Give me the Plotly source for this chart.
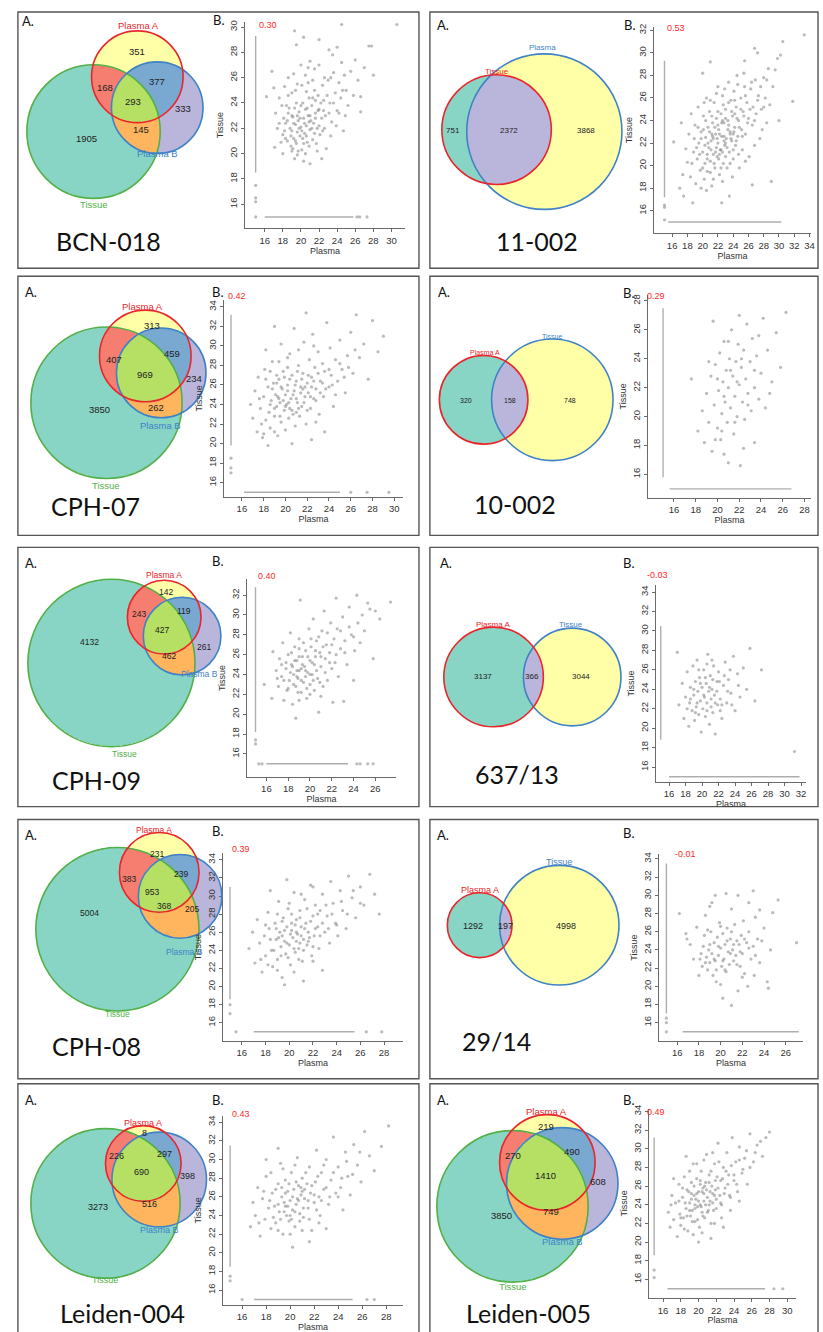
import numpy as np
import plotly.graph_objects as go

W, H = 823, 1332
FLOOR = 15  # value given to proteins not detected in one sample (the two strips)

# ====================== DATA ======================
sample_names = ["BCN-018", "11-002", "CPH-07", "10-002", "CPH-09",
                "637/13", "CPH-08", "29/14", "Leiden-004", "Leiden-005"]
correlations = ["0.30", "0.53", "0.42", "0.29", "0.40",
                "-0.03", "0.39", "-0.01", "0.43", "0.49"]

# three-set Venn counts, order: A only, B only, T only, A&B, A&T, B&T, A&B&T
set3_names = ["Plasma A", "Plasma B", "Tissue"]
bcn018_venn = [351, 333, 1905, 377, 168, 145, 293]
cph07_venn = [313, 234, 3850, 459, 407, 262, 969]
cph09_venn = [142, 261, 4132, 119, 243, 462, 427]
cph08_venn = [231, 205, 5004, 239, 383, 368, 953]
leiden004_venn = [8, 398, 3273, 297, 226, 516, 690]
leiden005_venn = [219, 608, 3850, 490, 270, 749, 1410]
# two-set Venn counts, order: first only, second only, both
e11002_sets = ["Tissue", "Plasma"]
e11002_venn = [751, 3868, 2372]
e10002_sets = ["Plasma A", "Tissue"]
e10002_venn = [320, 748, 158]
e63713_sets = ["Plasma A", "Tissue"]
e63713_venn = [3137, 3044, 366]
e2914_sets = ["Plasma A", "Tissue"]
e2914_venn = [1292, 4998, 197]

# scatter clouds (Plasma, Tissue)
bcn018_cloud = [
    (17.1,20.5),(17.2,23.2),(17.4,22.0),(17.6,24.4),(17.8,20.9),(17.9,23.8),(16.2,24.5),(17.0,25.2),(16.8,26.5),
    (18.0,21.5),(18.0,20.0),(18.2,25.3),(18.3,22.4),(18.5,21.0),(18.6,23.2),(18.6,26.0),(18.8,22.0),(18.9,20.6),
    (19.0,21.8),(19.0,24.8),(19.1,22.9),(19.2,21.2),(19.2,26.3),(19.3,23.6),(19.3,19.6),(19.3,29.7),(19.4,22.3),
    (19.5,20.8),(19.5,28.6),(19.6,21.7),(19.6,25.5),(19.7,22.6),(19.8,23.3),(19.9,21.4),(20.0,22.1),(20.0,27.0),
    (20.1,20.3),(20.2,24.0),(20.3,22.8),(20.3,19.4),(20.3,29.2),(20.4,21.6),(20.5,23.5),(20.5,26.2),(20.6,22.2),
    (20.7,20.9),(20.8,23.0),(20.8,25.6),(20.9,24.4),(21.0,21.9),(21.0,19.2),(21.0,27.3),(21.1,22.6),(21.2,23.8),
    (21.3,21.1),(21.4,22.4),(21.5,25.0),(21.5,26.7),(21.6,23.2),(21.8,22.0),(21.8,20.2),(21.9,24.6),(22.0,23.5),
    (22.0,27.0),(22.0,29.0),(22.1,21.5),(22.3,22.8),(22.3,19.6),(22.4,25.4),(22.5,24.2),(22.6,26.0),(22.7,23.0),
    (22.8,20.4),(23.0,25.8),(23.1,28.2),(23.2,24.0),(23.4,22.5),(23.5,27.8),(23.6,26.4),(23.8,24.8),(24.0,23.4),
    (24.0,28.4),(24.2,25.6),(24.4,24.4),(24.5,27.2),(24.5,30.2),(24.7,21.8),(25.0,25.0),(25.2,23.8),(25.5,26.5),
    (25.8,24.6),(26.0,27.4),(26.3,25.8),(26.6,24.5),(26.6,23.3),(27.0,26.8),(27.5,28.5),(27.8,28.5),(28.0,26.2),
    (30.6,30.2),(19.0,23.0),(19.8,22.0),(20.2,21.2),(20.9,22.5),(18.4,23.8),(21.6,24.2),(20.6,24.9),(19.5,24.0),
    (18.1,22.8),(18.3,21.2),(18.5,22.6),(18.7,23.6),(18.9,21.4),(19.1,20.4),(19.2,22.4),(19.4,21.0),(19.6,23.0),
    (19.7,20.2),(19.9,22.8),(20.0,23.8),(20.1,21.8),(20.3,20.8),(20.4,22.4),(20.6,21.4),(20.7,23.6),(20.9,20.6),
    (21.0,23.0),(21.2,22.0),(21.3,24.4),(21.5,21.6),(21.6,22.8),(21.7,20.8),(21.9,23.4),(22.0,22.2),(22.2,24.0),
    (22.4,21.8),(22.5,23.4),(22.6,22.0),(22.9,24.6),(23.1,23.2),(23.3,21.4),(23.6,24.0),(23.9,22.2),(24.2,23.2),
    (24.6,25.0),(24.9,23.0),(18.6,24.6),(19.4,25.0),(20.1,25.4),(20.8,26.8),(21.3,25.8),(23.3,26.0),(24.8,26.2),
    (18.2,21.8),(19.0,20.2),(19.6,19.9),(20.5,20.0),(17.6,22.4)]
e11002_cloud = [
    (17.2,23.8),(16.2,22.1),(17.0,18.0),(17.5,17.3),(17.4,19.2),(17.8,21.5),(18.0,20.3),(18.2,22.8),(18.4,19.0),
    (18.5,24.6),(18.7,16.7),(18.8,21.2),(19.0,23.6),(19.1,18.4),(19.3,20.6),(19.4,25.2),(19.5,22.0),(19.7,19.6),
    (19.8,23.0),(20.0,21.2),(20.0,28.2),(20.1,24.4),(20.2,18.8),(20.3,20.2),(20.4,22.5),(20.5,26.0),(20.6,19.5),
    (20.7,23.4),(20.8,21.6),(20.9,24.8),(21.0,20.4),(21.0,29.2),(21.1,22.2),(21.2,18.2),(21.3,23.8),(21.4,21.0),
    (21.5,25.6),(21.6,19.8),(21.7,22.8),(21.8,24.2),(21.9,20.8),(22.0,27.0),(22.0,22.0),(22.1,23.2),(22.2,19.2),
    (22.3,21.4),(22.4,24.6),(22.5,16.7),(22.5,22.6),(22.6,26.2),(22.7,20.2),(22.8,23.8),(22.9,21.8),(23.0,25.0),
    (23.1,22.4),(23.2,19.8),(23.3,24.0),(23.4,27.4),(23.5,17.3),(23.5,21.2),(23.6,23.0),(23.7,25.8),(23.8,22.2),
    (23.9,24.4),(24.0,20.6),(24.1,26.6),(24.2,23.4),(24.3,21.8),(24.4,25.2),(24.5,28.0),(24.6,22.6),(24.7,24.0),
    (24.8,19.8),(25.0,26.0),(25.1,23.2),(25.2,21.4),(25.3,24.8),(25.5,29.3),(25.5,27.0),(25.6,22.8),(25.8,25.6),
    (26.0,24.2),(26.1,20.8),(26.3,26.8),(26.5,18.3),(26.5,23.6),(26.6,25.2),(26.8,30.4),(26.9,27.6),(27.0,24.6),
    (27.2,30.0),(27.3,26.2),(27.5,22.4),(27.7,25.0),(28.0,27.8),(28.2,26.0),(28.4,23.8),(28.6,28.6),(28.8,25.4),
    (29.0,18.6),(29.2,27.0),(29.5,28.5),(29.8,29.5),(30.0,24.0),(30.2,29.8),(30.5,31.0),(31.8,25.7),(33.3,31.6),
    (21.4,22.4),(22.2,21.0),(22.8,22.2),(23.4,23.6),(21.8,21.6),(20.6,21.0),(24.0,22.8),(22.6,24.0),
    (19.6,21.0),(19.8,22.4),(20.0,19.8),(20.1,23.2),(20.3,21.8),(20.4,24.0),(20.6,20.6),(20.7,22.0),(20.9,23.0),
    (21.0,19.4),(21.1,21.4),(21.2,24.4),(21.3,22.6),(21.5,20.2),(21.6,23.4),(21.7,21.2),(21.9,22.4),(22.0,24.8),
    (22.1,20.6),(22.2,22.8),(22.4,19.8),(22.5,23.8),(22.6,21.2),(22.7,25.4),(22.8,22.6),(23.0,20.8),(23.0,24.2),
    (23.2,21.6),(23.3,23.2),(23.4,25.6),(23.6,20.2),(23.7,22.4),(23.8,24.8),(24.0,21.4),(24.1,23.0),(24.2,25.8),
    (24.4,22.2),(24.5,24.2),(24.7,21.0),(24.8,23.4),(25.0,25.0),(25.2,22.6),(25.4,24.4),(25.6,26.2),(25.9,23.8),
    (26.2,25.0),(26.4,27.4),(26.8,24.0),(27.2,25.8),(27.6,27.0),(28.0,25.2),(28.4,27.6),(19.2,21.6),(19.4,23.4),
    (18.6,20.2),(18.9,22.4),(20.2,25.6),(21.0,25.8),(21.8,26.4),(22.9,26.8),(24.6,27.2),(25.4,28.2),(23.9,19.0),
    (22.6,18.6),(21.4,18.8),(20.5,17.8),(19.8,18.0),(25.6,20.4),(26.8,21.8),(27.8,23.2),(22.4,21.4),(23.6,22.8),
    (21.2,22.8),(24.2,24.6),(22.0,23.6),(23.0,22.0)]
cph07_cloud = [
    (16.8,24.0),(17.0,22.6),(17.2,25.4),(17.4,21.2),(17.5,26.8),(17.7,23.6),(17.9,20.6),(18.0,24.8),(18.1,27.6),
    (18.2,22.4),(18.4,25.8),(18.5,23.2),(18.6,21.6),(18.7,24.4),(18.8,28.4),(18.9,26.2),(19.0,22.8),(19.1,25.0),
    (19.2,23.8),(19.3,20.8),(19.4,26.6),(19.5,24.2),(19.6,22.2),(19.7,25.6),(19.8,27.4),(19.9,23.4),(20.0,25.0),
    (20.0,21.4),(20.1,24.0),(20.2,26.0),(20.3,22.6),(20.4,29.2),(20.5,24.6),(20.6,27.0),(20.7,23.0),(20.8,25.4),
    (20.9,21.8),(21.0,26.4),(21.1,24.2),(21.2,28.0),(21.3,22.8),(21.4,25.8),(21.5,23.8),(21.6,27.2),(21.7,30.4),
    (21.8,24.8),(21.9,22.0),(22.0,26.2),(22.1,25.2),(22.2,28.6),(22.3,23.6),(22.4,26.8),(22.5,31.2),(22.6,24.6),
    (22.7,27.8),(22.8,25.6),(23.0,29.4),(23.1,23.0),(23.2,26.4),(23.4,28.2),(23.5,24.8),(23.6,27.4),(23.8,32.4),
    (24.0,25.8),(24.1,29.8),(24.2,27.0),(24.4,23.8),(24.6,28.6),(24.8,26.4),(25.0,30.6),(25.2,27.6),(25.5,25.2),
    (25.7,29.0),(26.0,31.4),(26.2,27.2),(26.5,33.2),(26.8,28.8),(27.2,30.2),(27.6,26.6),(28.0,32.6),(28.5,29.4),
    (29.0,31.0),(19.6,30.2),(18.2,29.6),(20.8,31.8),(21.9,33.4),(19.0,32.0),(23.6,21.2),(22.4,20.4),(20.6,20.0),
    (21.0,23.2),(20.4,23.6),(19.4,24.6),(21.6,25.6),(20.2,27.8),(19.2,27.0),(22.8,22.2),(18.4,19.8),
    (18.6,24.0),(18.8,25.6),(19.0,23.6),(19.2,26.2),(19.3,24.8),(19.5,22.8),(19.6,25.8),(19.8,24.4),(19.9,26.8),
    (20.0,23.8),(20.2,25.4),(20.3,24.2),(20.4,26.6),(20.6,23.4),(20.7,25.0),(20.9,26.0),(21.0,24.6),(21.1,27.4),
    (21.2,23.6),(21.4,25.2),(21.5,26.6),(21.7,24.2),(21.8,25.8),(22.0,23.4),(22.1,27.0),(22.3,24.8),(22.4,25.8),
    (22.6,26.4),(22.8,24.4),(23.0,27.2),(23.2,25.2),(23.4,26.2),(23.7,25.6),(24.0,27.6),(24.3,26.0),(24.6,25.0),
    (25.0,28.2),(25.4,26.8),(25.8,27.8),(26.4,29.6),(17.6,24.6),(17.8,22.0),(18.2,26.6),(18.6,27.4),(19.4,28.4),
    (20.2,28.8),(21.2,29.6),(22.6,30.0),(18.0,21.0),(19.0,21.2)]
e10002_cloud = [
    (18.2,19.0),(18.6,20.4),(18.8,18.2),(19.0,21.6),(19.2,19.6),(19.4,22.8),(19.5,17.6),(19.7,20.8),(19.8,23.6),
    (20.0,19.2),(20.1,21.8),(20.2,24.4),(20.3,18.4),(20.4,20.2),(20.5,22.4),(20.6,25.2),(20.7,21.0),(20.8,23.2),
    (20.9,19.6),(21.0,22.0),(21.1,24.0),(21.2,20.6),(21.3,26.0),(21.4,22.8),(21.5,18.8),(21.6,21.4),(21.7,23.8),
    (21.8,20.0),(21.9,25.0),(22.0,22.2),(22.1,16.6),(22.2,23.4),(22.3,21.0),(22.4,24.6),(22.5,19.8),(22.6,22.6),
    (22.7,26.4),(22.8,21.6),(23.0,23.8),(23.1,20.4),(23.2,25.4),(23.4,22.0),(23.6,24.2),(23.8,21.2),(24.0,23.0),
    (24.2,26.8),(24.4,20.6),(24.6,24.6),(25.0,22.4),(25.4,25.8),(25.8,23.4),(26.3,27.2),(17.6,22.6),(19.6,26.6),
    (22.0,27.0),(21.0,16.8),(20.6,17.4),(23.4,18.2),
    (20.0,22.6),(20.6,21.4),(21.2,23.2),(21.6,19.6),(22.2,24.0),(22.8,20.8),(23.4,23.2),(20.4,19.0),(21.8,22.4),
    (19.2,23.8),(23.8,25.6),(24.8,21.6),(19.8,18.4),(22.4,17.8),(21.0,25.2)]
cph09_cloud = [
    (15.8,23.0),(16.5,21.6),(16.6,26.3),(16.9,24.4),(17.1,22.8),(17.2,25.6),(17.4,23.8),(17.5,27.2),(17.6,21.4),
    (17.8,24.6),(17.9,22.4),(18.0,26.0),(18.1,23.4),(18.2,28.2),(18.3,25.0),(18.4,21.0),(18.5,24.0),(18.6,26.8),
    (18.7,19.6),(18.7,22.8),(18.8,25.4),(18.9,23.6),(19.0,27.6),(19.0,24.4),(19.1,31.5),(19.2,22.2),(19.3,25.8),
    (19.4,23.2),(19.5,24.8),(19.6,26.4),(19.7,21.6),(19.8,24.2),(19.9,28.6),(20.0,25.4),(20.0,23.0),(20.1,26.8),
    (20.2,24.0),(20.3,29.6),(20.4,22.4),(20.5,25.8),(20.6,27.4),(20.7,23.6),(20.8,20.2),(20.9,26.2),(21.0,24.8),
    (21.1,28.4),(21.2,22.8),(21.3,30.4),(21.4,25.6),(21.5,27.0),(21.6,23.4),(21.8,26.2),(21.9,29.2),(22.0,24.6),
    (22.1,21.2),(22.2,27.6),(22.3,25.2),(22.4,31.7),(22.5,28.6),(22.6,23.8),(22.8,26.6),(23.0,29.8),(23.1,21.3),
    (23.2,27.4),(23.4,25.0),(23.6,30.8),(23.8,28.0),(24.0,23.4),(24.1,26.4),(24.3,32.0),(24.4,29.2),(24.6,27.2),
    (24.8,30.0),(25.0,28.4),(25.3,31.2),(25.5,30.6),(25.8,25.6),(26.0,30.4),(26.4,29.6),(27.4,31.3),(19.2,24.6),
    (18.4,24.8),(19.6,23.8),(20.4,25.0),(19.0,25.8),(18.8,23.8),
    (17.6,23.4),(17.8,25.2),(18.0,22.6),(18.2,24.2),(18.3,26.2),(18.5,23.0),(18.6,25.4),(18.8,24.4),(18.9,22.2),
    (19.0,26.6),(19.2,23.4),(19.3,25.0),(19.4,27.2),(19.6,24.4),(19.7,22.6),(19.8,25.8),(20.0,24.0),(20.1,27.6),
    (20.2,25.2),(20.3,23.4),(20.5,26.4),(20.6,24.4),(20.8,27.8),(20.9,23.2),(21.0,25.8),(21.2,26.8),(21.4,24.2),
    (21.6,28.2),(21.8,25.2),(22.0,27.0),(22.4,26.0),(22.8,28.4),(23.2,26.2),(23.6,28.8),(24.0,27.8),(17.4,25.0),
    (17.0,23.6),(19.0,21.4),(20.0,22.0),(21.0,21.8)]
e63713_cloud = [
    (17.2,22.4),(17.6,24.6),(17.8,21.0),(18.0,23.2),(18.2,25.8),(18.4,20.2),(18.5,22.6),(18.6,24.2),(18.8,21.8),
    (18.9,26.4),(19.0,23.4),(19.1,20.8),(19.2,24.8),(19.3,22.2),(19.4,27.0),(19.5,23.8),(19.6,21.4),(19.7,25.2),
    (19.8,22.8),(19.9,19.6),(20.0,24.2),(20.1,22.0),(20.2,26.0),(20.3,23.2),(20.4,21.2),(20.5,24.6),(20.6,22.6),
    (20.7,27.6),(20.8,23.8),(20.9,20.4),(21.0,25.4),(21.1,22.2),(21.2,24.0),(21.3,21.6),(21.4,26.4),(21.5,23.4),
    (21.6,19.4),(21.8,24.8),(21.9,22.4),(22.0,25.8),(22.2,23.0),(22.4,21.0),(22.6,24.4),(22.8,26.8),(23.0,22.6),
    (23.2,25.0),(23.5,23.6),(23.8,27.4),(24.0,21.8),(24.3,25.6),(24.6,23.2),(25.0,26.2),(25.4,24.0),(25.8,28.2),
    (26.4,22.8),(27.2,26.0),(31.2,17.6),(17.0,27.8),
    (19.0,24.0),(19.4,22.6),(19.8,24.6),(20.2,23.4),(20.4,25.2),(20.6,21.8),(20.9,24.2),(21.1,23.0),(21.3,25.0),
    (21.6,22.6),(21.8,23.8),(22.1,24.8),(22.4,22.4),(22.7,25.4),(23.1,23.8),(23.4,26.0),(18.6,23.0),(18.2,22.0),
    (19.6,26.0),(20.6,26.6),(21.2,27.0),(22.2,21.8),(23.6,22.4),(24.4,24.4),(19.2,21.6)]
cph08_cloud = [
    (16.6,24.2),(16.9,26.0),(17.1,22.6),(17.3,27.4),(17.5,24.8),(17.7,21.6),(17.9,25.6),(18.0,23.4),(18.2,28.2),
    (18.3,26.4),(18.5,24.0),(18.6,22.2),(18.8,27.0),(18.9,25.2),(19.0,23.0),(19.1,29.4),(19.2,26.0),(19.3,24.4),
    (19.4,21.0),(19.5,27.6),(19.6,25.0),(19.7,23.6),(19.8,26.6),(19.9,28.6),(20.0,24.6),(20.1,22.4),(20.2,26.2),
    (20.3,25.4),(20.4,30.4),(20.5,23.8),(20.6,27.4),(20.7,25.8),(20.8,24.2),(20.9,28.4),(21.0,26.6),(21.1,22.8),
    (21.2,25.2),(21.3,29.6),(21.4,27.0),(21.5,24.6),(21.6,26.0),(21.8,31.2),(21.9,23.4),(22.0,27.8),(22.1,25.6),
    (22.2,29.0),(22.4,26.6),(22.5,24.2),(22.6,28.4),(22.8,30.2),(23.0,26.0),(23.2,27.8),(23.4,24.8),(23.5,31.6),
    (23.7,29.2),(23.9,27.0),(24.1,25.6),(24.3,30.6),(24.5,28.4),(24.8,26.4),(25.0,32.2),(25.3,29.8),(25.6,27.6),
    (26.0,31.0),(26.3,29.0),(26.8,32.4),(27.2,30.2),(27.6,28.0),(19.6,20.2),(21.2,20.6),(22.8,21.8),(18.4,30.6),
    (19.8,31.8),(20.9,24.8),(20.2,27.0),(19.4,25.6),(21.6,25.0),(20.6,26.0),
    (18.4,25.2),(18.7,24.0),(18.9,26.4),(19.1,25.4),(19.3,23.4),(19.4,27.2),(19.6,26.2),(19.8,24.8),(19.9,23.2),
    (20.1,25.8),(20.2,28.0),(20.4,24.2),(20.5,26.8),(20.6,25.0),(20.8,23.0),(20.9,27.6),(21.0,25.6),(21.2,24.0),
    (21.3,26.4),(21.5,28.6),(21.7,25.4),(21.8,27.2),(22.0,24.4),(22.2,26.4),(22.4,28.0),(22.6,25.6),(22.8,27.0),
    (23.1,29.0),(23.3,26.4),(23.6,28.0),(24.0,26.8),(24.4,29.4),(24.9,28.0),(25.4,30.6),(26.0,29.2),(17.6,23.0),
    (18.0,26.8),(18.2,22.4),(19.0,28.0),(20.0,29.2),(21.0,30.2),(22.0,31.0),(19.0,21.8),(20.4,21.6),(22.0,22.8)]
e2914_cloud = [
    (16.2,28.0),(16.8,25.8),(16.9,25.2),(17.2,24.6),(17.5,23.0),(17.8,26.5),(18.0,21.2),(18.1,23.0),(18.2,23.6),
    (18.3,22.2),(18.4,24.4),(18.5,25.6),(18.6,27.8),(18.7,23.2),(18.8,21.8),(18.9,24.0),(19.0,28.8),(19.0,22.6),
    (19.1,26.0),(19.2,29.2),(19.2,23.6),(19.3,21.2),(19.4,24.8),(19.5,30.0),(19.5,22.8),(19.6,20.5),(19.7,25.4),
    (19.8,23.4),(19.9,27.0),(20.0,20.2),(20.0,24.2),(20.1,22.2),(20.2,18.7),(20.2,25.8),(20.3,23.0),(20.4,24.6),
    (20.5,30.2),(20.5,21.6),(20.6,26.4),(20.7,23.8),(20.8,22.4),(20.9,25.2),(21.0,28.5),(21.0,17.9),(21.1,24.0),
    (21.2,22.8),(21.3,26.8),(21.4,23.4),(21.5,25.0),(21.6,19.5),(21.7,24.6),(21.8,22.2),(21.9,25.6),(22.0,23.6),
    (22.1,27.2),(22.2,21.4),(22.4,24.8),(22.5,20.0),(22.6,26.0),(22.8,23.0),(23.0,30.5),(23.0,24.4),(23.1,21.2),
    (23.2,27.6),(23.4,25.2),(23.6,22.6),(24.0,26.4),(24.3,20.5),(24.4,19.8),(24.6,24.0),(24.8,28.1),(25.3,29.5),
    (27.0,24.8),(22.6,29.2),(21.6,30.0),(23.6,28.4),
    (19.4,23.0),(19.8,24.4),(20.2,22.8),(20.6,25.0),(20.9,23.6),(21.2,24.6),(21.5,22.4),(21.8,23.8),(22.2,25.2),
    (19.0,24.6),(18.6,22.6),(20.4,21.8),(22.6,24.2),(23.2,23.4),(20.0,26.6),(21.0,26.0),(19.6,21.8),(22.0,21.0),
    (23.8,25.0),(18.8,26.2)]
leiden004_cloud = [
    (16.7,22.8),(16.9,25.4),(17.1,24.0),(17.3,27.0),(17.5,21.8),(17.7,25.8),(17.9,23.6),(18.0,28.2),(18.2,24.8),
    (18.4,22.6),(18.5,26.4),(18.7,25.0),(18.8,23.2),(19.0,27.4),(19.1,24.4),(19.2,29.6),(19.3,26.0),(19.4,22.0),
    (19.5,25.4),(19.6,27.8),(19.7,24.0),(19.8,26.6),(19.9,23.4),(20.0,25.6),(20.1,28.6),(20.2,24.6),(20.3,26.8),
    (20.4,22.8),(20.5,25.2),(20.6,30.2),(20.7,27.2),(20.8,24.2),(20.9,26.2),(21.0,28.0),(21.1,23.8),(21.2,25.8),
    (21.4,27.4),(21.5,24.8),(21.6,29.2),(21.7,26.4),(21.8,22.4),(22.0,25.4),(22.1,27.6),(22.2,31.0),(22.4,26.0),
    (22.5,24.0),(22.6,28.6),(22.8,26.8),(23.0,30.0),(23.2,25.2),(23.4,27.8),(23.6,32.4),(23.8,26.4),(24.0,29.2),
    (24.2,27.0),(24.4,24.6),(24.6,30.8),(24.8,28.2),(25.0,26.2),(25.3,31.6),(25.6,29.4),(25.9,27.6),(26.2,33.0),
    (26.6,30.4),(27.0,28.8),(27.6,31.4),(28.2,33.6),(19.0,31.2),(18.0,30.0),(20.2,20.6),(21.6,21.2),(23.0,22.6),
    (20.6,25.8),(19.6,25.0),(21.0,26.6),(20.0,24.0),
    (18.3,25.6),(18.6,23.8),(18.8,26.8),(19.0,25.2),(19.2,23.6),(19.3,27.0),(19.5,24.4),(19.6,26.4),(19.8,25.0),
    (19.9,27.4),(20.1,23.6),(20.2,26.0),(20.4,24.4),(20.5,27.6),(20.7,25.6),(20.8,23.4),(20.9,27.0),(21.1,24.8),
    (21.2,26.8),(21.3,28.6),(21.5,25.6),(21.6,23.6),(21.8,27.2),(22.0,26.2),(22.2,24.6),(22.3,28.2),(22.6,25.6),
    (22.8,29.4),(23.0,27.0),(23.3,26.0),(23.6,28.6),(24.0,26.0),(24.3,28.0),(24.7,29.8),(25.2,28.4),(25.8,30.8),
    (17.4,23.2),(17.8,26.6),(18.4,28.6),(19.4,29.0),(20.4,29.4),(20.0,22.0),(21.0,22.4),(22.4,23.2),(19.0,22.4)]
leiden005_cloud = [
    (16.6,23.2),(16.8,21.6),(17.0,25.0),(17.2,22.4),(17.4,24.2),(17.6,20.6),(17.8,26.2),(17.9,23.0),(18.0,21.8),
    (18.2,24.8),(18.3,22.6),(18.4,27.0),(18.6,23.6),(18.7,25.6),(18.8,21.2),(19.0,24.2),(19.1,22.8),(19.2,26.4),
    (19.3,23.4),(19.4,28.4),(19.5,25.0),(19.6,22.2),(19.7,24.6),(19.8,26.8),(19.9,23.8),(20.0,25.4),(20.1,21.6),
    (20.2,24.0),(20.3,27.6),(20.4,23.2),(20.5,25.8),(20.6,24.4),(20.7,22.6),(20.8,26.4),(20.9,29.4),(21.0,24.8),
    (21.1,23.4),(21.2,27.2),(21.3,25.4),(21.4,22.0),(21.5,26.0),(21.6,24.2),(21.8,28.4),(21.9,25.6),(22.0,23.6),
    (22.1,27.0),(22.2,30.6),(22.4,25.0),(22.5,26.6),(22.6,24.0),(22.8,28.0),(23.0,25.8),(23.2,29.6),(23.4,27.2),
    (23.6,24.8),(23.8,31.2),(24.0,26.6),(24.2,28.6),(24.4,25.4),(24.6,30.2),(24.9,27.4),(25.2,29.0),(25.5,26.2),
    (25.8,31.6),(26.2,28.6),(26.6,30.4),(27.2,29.2),(28.0,31.8),(20.0,20.0),(21.4,20.4),(22.8,21.6),(18.6,29.2),
    (19.6,24.0),(20.6,25.2),(21.2,24.0),(20.2,26.2),(19.2,25.2),(21.8,25.0),
    (18.5,24.2),(18.7,22.8),(18.9,25.4),(19.0,23.4),(19.2,24.6),(19.3,22.2),(19.5,26.0),(19.6,23.6),(19.8,25.2),
    (19.9,22.4),(20.0,24.4),(20.2,26.6),(20.3,23.8),(20.4,25.4),(20.5,22.8),(20.7,26.0),(20.8,24.0),(20.9,25.6),
    (21.0,23.2),(21.2,26.4),(21.3,24.4),(21.4,27.6),(21.6,25.2),(21.7,23.4),(21.9,26.6),(22.0,24.6),(22.2,25.8),
    (22.3,28.6),(22.5,24.2),(22.7,26.8),(22.9,25.2),(23.1,27.6),(23.3,26.2),(23.5,25.0),(23.7,28.2),(24.0,27.2),
    (24.3,26.2),(24.6,28.8),(25.0,27.8),(25.4,29.8),(25.8,28.0),(26.4,29.6),(27.0,30.8),(27.6,31.2),(17.8,24.4),
    (18.0,22.6),(18.2,25.8),(18.4,21.4),(19.0,27.6),(19.8,28.4),(20.6,28.8),(21.6,29.6),(19.4,20.8),(20.4,21.0),
    (21.8,22.0),(22.6,22.6),(23.6,23.4),(17.2,26.8),(16.9,24.0),(24.6,24.4)]

# extent of the strips (min, max) and isolated points on them
bcn018_vstrip, bcn018_vpts, bcn018_hstrip, bcn018_hpts = [18.5, 29.3], [17.5, 16.5, 16.2, 15.0], [16.0, 25.8], [26.2, 26.5, 27.3]
e11002_vstrip, e11002_vpts, e11002_hstrip, e11002_hpts = [17.2, 29.3], [16.5, 16.3, 15.2], [15.5, 30.3], []
cph07_vstrip, cph07_vpts, cph07_hstrip, cph07_hpts = [19.8, 33.2], [18.5, 17.5, 17.0], [16.2, 25.0], [26.0, 27.5, 29.5]
e10002_vstrip, e10002_vpts, e10002_hstrip, e10002_hpts = [15.8, 27.5], [], [15.6, 26.8], []
cph09_vstrip, cph09_vpts, cph09_hstrip, cph09_hpts = [18.2, 32.8], [17.4, 17.0], [16.0, 23.5], [15.3, 15.6, 24.3, 24.6, 25.3, 25.8]
e63713_vstrip, e63713_vpts, e63713_hstrip, e63713_hpts = [18.8, 30.5], [], [16.0, 31.8], []
cph08_vstrip, cph08_vpts, cph08_hstrip, cph08_hpts = [18.6, 31.0], [17.0, 18.0], [17.0, 25.5], [15.5, 26.5, 27.8]
e2914_vstrip, e2914_vpts, e2914_hstrip, e2914_hpts = [17.0, 33.5], [16.5, 16.0, 15.0], [16.5, 27.2], []
leiden004_vstrip, leiden004_vpts, leiden004_hstrip, leiden004_hpts = [18.5, 31.5], [17.5, 17.0], [17.0, 25.2], [16.0, 26.4, 27.0]
leiden005_vstrip, leiden005_vpts, leiden005_hstrip, leiden005_hpts = [18.6, 31.2], [17.0, 16.2], [16.5, 27.5], [28.5, 29.5]

# tick labels
ticks_16_26 = [16, 18, 20, 22, 24, 26]
ticks_16_28 = [16, 18, 20, 22, 24, 26, 28]
ticks_16_30 = [16, 18, 20, 22, 24, 26, 28, 30]
ticks_16_32 = [16, 18, 20, 22, 24, 26, 28, 30, 32]
ticks_16_34 = [16, 18, 20, 22, 24, 26, 28, 30, 32, 34]

# ====================== LAYOUT (pixel geometry) ======================
panel_boxes = [(18, 8, 421, 265), (432, 8, 822, 265), (18, 273, 421, 533), (432, 273, 822, 533),
               (18, 545, 421, 805), (432, 545, 822, 805), (18, 818, 421, 1078), (432, 818, 822, 1078),
               (18, 1083, 421, 1345), (432, 1083, 822, 1345)]

venn_geo = [
    dict(kind=3, counts=bcn018_venn, names=set3_names,
         circles=[(138, 73, 46), (158, 104, 46), (94, 128, 67)],
         npos=[(138, 48), (184, 105), (87, 135), (158, 78), (106, 84), (142, 126), (134, 98)],
         lpos=[(139, 22), (158, 150), (94, 201)], fs=9.5, lfs=9.5),
    dict(kind=2, counts=e11002_venn, names=e11002_sets,
         circles=[(499, 126, 55), (547, 128, 78)],
         npos=[(455, 127), (589, 127), (511, 127)], lpos=[(499, 68), (545, 44)], fs=8, lfs=8),
    dict(kind=3, counts=cph07_venn, names=set3_names,
         circles=[(146, 353, 46), (162, 370, 45), (107, 400, 76)],
         npos=[(153, 322), (195, 376), (100, 407), (173, 351), (115, 357), (157, 405), (146, 372)],
         lpos=[(143, 303), (161, 423), (107, 483)], fs=9.5, lfs=9.5),
    dict(kind=2, counts=e10002_venn, names=e10002_sets,
         circles=[(486, 397, 44.5), (555, 397, 61)],
         npos=[(468, 398), (573, 398), (512, 398)], lpos=[(487, 350), (555, 333)], fs=7, lfs=7),
    dict(kind=3, counts=cph09_venn, names=set3_names,
         circles=[(165, 615, 37), (183, 634, 39), (112, 661, 84)],
         npos=[(167, 590), (205, 645), (90, 640), (185, 609), (140, 612), (170, 654), (163, 628)],
         lpos=[(165, 573), (200, 672), (125, 752)], fs=8.5, lfs=8.5),
    dict(kind=2, counts=e63713_venn, names=e63713_sets,
         circles=[(496, 675, 50), (575, 675, 49)],
         npos=[(485, 675), (584, 675), (535, 675)], lpos=[(495, 622), (574, 622)], fs=8, lfs=8),
    dict(kind=3, counts=cph08_venn, names=set3_names,
         circles=[(160, 871, 40), (181, 895, 42), (118, 928, 82)],
         npos=[(158, 853), (193, 908), (90, 912), (182, 873), (130, 878), (165, 905), (153, 891)],
         lpos=[(155, 828), (185, 951), (118, 1013)], fs=8.5, lfs=8.5),
    dict(kind=2, counts=e2914_venn, names=e2914_sets,
         circles=[(482, 924, 32.5), (562, 924, 60)],
         npos=[(475, 925), (569, 925), (508, 925)], lpos=[(482, 889), (562, 861)], fs=9, lfs=9),
    dict(kind=3, counts=leiden004_venn, names=set3_names,
         circles=[(144, 1163, 38), (160, 1179, 47.5), (106, 1203, 75)],
         npos=[(145, 1132), (188, 1176), (98, 1207), (165, 1153), (117, 1155), (150, 1204), (142, 1172)],
         lpos=[(144, 1122), (160, 1230), (106, 1280)], fs=9, lfs=9),
    dict(kind=3, counts=leiden005_venn, names=set3_names,
         circles=[(550, 1162, 48), (565, 1183, 56), (515, 1206, 76)],
         npos=[(549, 1126), (601, 1181), (504, 1215), (575, 1151), (515, 1155), (554, 1211), (548, 1175)],
         lpos=[(549, 1111), (565, 1241), (515, 1286)], fs=9.5, lfs=9.5),
]

scatter_geo = [
    dict(cloud=bcn018_cloud, vs=bcn018_vstrip, vp=bcn018_vpts, hs=bcn018_hstrip, hp=bcn018_hpts,
         box=(246, 407, 18, 225), xr=[13.8, 31.5], yr=[14.1, 30.4], xt=ticks_16_30, yt=ticks_16_30),
    dict(cloud=e11002_cloud, vs=e11002_vstrip, vp=e11002_vpts, hs=e11002_hstrip, hp=e11002_hpts,
         box=(657, 815, 23, 230), xr=[13.6, 34.2], yr=[14.0, 32.3], xt=ticks_16_34, yt=ticks_16_32),
    dict(cloud=cph07_cloud, vs=cph07_vstrip, vp=cph07_vpts, hs=cph07_hstrip, hp=cph07_hpts,
         box=(225, 405, 297, 494), xr=[14.35, 30.8], yr=[14.57, 34.7], xt=ticks_16_30, yt=ticks_16_34),
    dict(cloud=e10002_cloud, vs=e10002_vstrip, vp=e10002_vpts, hs=e10002_hstrip, hp=e10002_hpts,
         box=(651, 815, 292, 495), xr=[13.6, 28.6], yr=[14.4, 28.4], xt=ticks_16_28, yt=ticks_16_28),
    dict(cloud=cph09_cloud, vs=cph09_vstrip, vp=cph09_vpts, hs=cph09_hstrip, hp=cph09_hpts,
         box=(248, 398, 577, 775), xr=[14.2, 27.9], yr=[13.7, 33.6], xt=ticks_16_28, yt=ticks_16_32),
    dict(cloud=e63713_cloud, vs=e63713_vstrip, vp=e63713_vpts, hs=e63713_hstrip, hp=e63713_hpts,
         box=(659, 810, 583, 780), xr=[14.4, 32.6], yr=[14.5, 34.7], xt=ticks_16_32, yt=ticks_16_34),
    dict(cloud=cph08_cloud, vs=cph08_vstrip, vp=cph08_vpts, hs=cph08_hstrip, hp=cph08_hpts,
         box=(224, 405, 852, 1040), xr=[14.4, 29.6], yr=[14.0, 34.7], xt=ticks_16_28, yt=ticks_16_34),
    dict(cloud=e2914_cloud, vs=e2914_vstrip, vp=e2914_vpts, hs=e2914_hstrip, hp=e2914_hpts,
         box=(662, 807, 853, 1040), xr=[14.3, 27.6], yr=[14.0, 34.5], xt=ticks_16_26, yt=ticks_16_34),
    dict(cloud=leiden004_cloud, vs=leiden004_vstrip, vp=leiden004_vpts, hs=leiden004_hstrip, hp=leiden004_hpts,
         box=(224, 405, 1115, 1305), xr=[14.4, 29.4], yr=[14.4, 34.7], xt=ticks_16_28, yt=ticks_16_34),
    dict(cloud=leiden005_cloud, vs=leiden005_vstrip, vp=leiden005_vpts, hs=leiden005_hstrip, hp=leiden005_hpts,
         box=(652, 800, 1108, 1298), xr=[14.4, 31.0], yr=[14.0, 34.3], xt=ticks_16_30, yt=ticks_16_34),
]

a_pos = [(28, 17), (445, 21), (31, 289), (446, 289), (31, 561), (448, 561), (31, 833), (445, 833), (31, 1099), (445, 1099)]
b_pos = [(220, 16), (633, 21), (219, 289), (632, 290), (219, 559), (632, 561), (219, 829), (632, 831), (219, 1099), (632, 1099)]
r_pos = [(258, 21), (668, 24), (227, 293), (648, 293), (257, 574), (648, 573), (231, 848), (676, 853), (231, 1113), (648, 1111)]
name_pos = [(109, 238), (540, 238), (96, 504), (518, 502), (97, 778), (520, 772), (97, 1045), (499, 1040), (123, 1313), (531, 1313)]

COL3 = ['#ffffa8', '#bab6db', '#79a8d0', '#89d5c5', '#f67e71', '#ffb55e', '#b6e063']
COL2 = ['#89d5c5', '#ffffa8', '#bab6db']
RED, BLUE, GREEN = '#e8262b', '#3f82c5', '#52b048'
TXT = 'Liberation Sans, Arial, sans-serif'
CAL = 'Lato, Open Sans, sans-serif'

fig = go.Figure()
layout = dict(width=W, height=H, margin=dict(l=0, r=0, t=0, b=0), paper_bgcolor='white',
              plot_bgcolor='rgba(0,0,0,0)', showlegend=False,
              xaxis=dict(domain=[0, 1], range=[0, W], visible=False, fixedrange=True),
              yaxis=dict(domain=[0, 1], range=[H, 0], visible=False, fixedrange=True))
shapes, annotations = [], []

def ann(x, y, text, size, color='#222', family=TXT, xanchor='center'):
    annotations.append(dict(x=x, y=y, xref='x', yref='y', text=text, showarrow=False,
                            xanchor=xanchor, yanchor='middle',
                            font=dict(size=size, color=color, family=family)))

for (x0, y0, x1, y1) in panel_boxes:
    shapes.append(dict(type='rect', xref='x', yref='y', x0=x0, y0=y0, x1=x1, y1=y1,
                       line=dict(color='#555555', width=1.4), fillcolor='rgba(0,0,0,0)', layer='above'))

# ---- Venn diagrams ----
for v in venn_geo:
    circ = v['circles']
    cols = COL3 if v['kind'] == 3 else COL2
    xa = int(min(c[0] - c[2] for c in circ)) - 2
    xb = int(max(c[0] + c[2] for c in circ)) + 3
    ya = int(min(c[1] - c[2] for c in circ)) - 2
    yb = int(max(c[1] + c[2] for c in circ)) + 3
    xs = np.arange(xa, xb) + 0.5
    ys = np.arange(ya, yb) + 0.5
    X, Y = np.meshgrid(xs, ys)
    code = np.zeros(X.shape, dtype=int)
    for i, (cx, cy, r) in enumerate(circ):
        code += (((X - cx) ** 2 + (Y - cy) ** 2) <= r * r).astype(int) << i
    z = np.where(code > 0, code, np.nan).astype(float)
    n = len(cols)
    cs = []
    for k in range(n):
        cs += [[k / n, cols[k]], [(k + 1) / n, cols[k]]]
    fig.add_trace(go.Heatmap(x=xs, y=ys, z=z, colorscale=cs, zmin=0.5, zmax=n + 0.5,
                             showscale=False, hoverinfo='skip', xaxis='x', yaxis='y'))
    outline = [RED, BLUE, GREEN] if v['kind'] == 3 else [RED, BLUE]
    order = [2, 1, 0] if v['kind'] == 3 else [1, 0]
    for i in order:
        cx, cy, r = circ[i]
        shapes.append(dict(type='circle', xref='x', yref='y', x0=cx - r, x1=cx + r, y0=cy - r, y1=cy + r,
                           line=dict(color=outline[i], width=1.6), layer='above'))
    for (px, py), cnt in zip(v['npos'], v['counts']):
        ann(px, py, str(cnt), v['fs'])
    for (px, py), nm, c in zip(v['lpos'], v['names'], outline):
        ann(px, py, nm, v['lfs'], color=c)

# ---- scatter plots ----
for k, s in enumerate(scatter_geo):
    i = k + 2
    L, R, T, B = s['box']
    xa, ya = f'x{i}', f'y{i}'
    layout[f'xaxis{i}'] = dict(domain=[L / W, R / W], range=s['xr'], anchor=ya, showline=True,
                               linecolor='#6a6a6a', linewidth=1, ticks='outside', ticklen=3,
                               tickcolor='#6a6a6a', tickvals=s['xt'], showgrid=False, zeroline=False,
                               tickfont=dict(size=9.5, color='#333', family=TXT), fixedrange=True,
                               title=dict(text='Plasma', font=dict(size=9, color='#333', family=TXT), standoff=1))
    layout[f'yaxis{i}'] = dict(domain=[1 - B / H, 1 - T / H], range=s['yr'], anchor=xa, showline=True,
                               linecolor='#6a6a6a', linewidth=1, ticks='outside', ticklen=3,
                               tickcolor='#6a6a6a', tickvals=s['yt'], tickangle=-90, showgrid=False,
                               zeroline=False, tickfont=dict(size=9.5, color='#333', family=TXT),
                               fixedrange=True,
                               title=dict(text='Tissue', font=dict(size=9, color='#333', family=TXT), standoff=2))
    cx = [p[0] for p in s['cloud']]
    cy = [p[1] for p in s['cloud']]
    line_style = dict(color='rgba(160,160,160,0.85)', width=1.4)
    fig.add_trace(go.Scatter(x=[FLOOR, FLOOR], y=s['vs'], mode='lines', line=line_style,
                             xaxis=xa, yaxis=ya, hoverinfo='skip'))
    fig.add_trace(go.Scatter(x=s['hs'], y=[FLOOR, FLOOR], mode='lines', line=line_style,
                             xaxis=xa, yaxis=ya, hoverinfo='skip'))
    dot = dict(size=3.2, color='rgba(120,120,120,0.5)')
    fig.add_trace(go.Scatter(x=[FLOOR] * len(s['vp']) + s['hp'], y=s['vp'] + [FLOOR] * len(s['hp']),
                             mode='markers', marker=dot, xaxis=xa, yaxis=ya, cliponaxis=False))
    fig.add_trace(go.Scatter(x=cx, y=cy, mode='markers', marker=dot, xaxis=xa, yaxis=ya))

# ---- panel texts ----
for k in range(10):
    ann(a_pos[k][0], a_pos[k][1], 'A.', 13, color='#111', family=CAL)
    ann(b_pos[k][0], b_pos[k][1], 'B.', 13, color='#111', family=CAL)
    ann(r_pos[k][0], r_pos[k][1], correlations[k], 9, color='#ff2a2a', family=TXT, xanchor='left')
    ann(name_pos[k][0], name_pos[k][1], sample_names[k], 25, color='#111', family=CAL)

layout['shapes'] = shapes
layout['annotations'] = annotations
fig.update_layout(**layout)
fig.write_html("out.html", config={'displayModeBar': False},
               post_script="document.body.style.margin='0';document.body.style.overflow='hidden';")
